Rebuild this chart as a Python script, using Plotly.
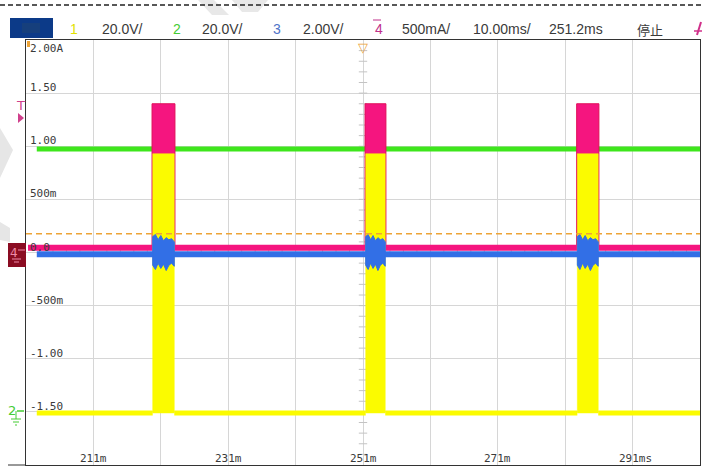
import plotly.graph_objects as go

time_window_ms = [201.2, 301.2]          # 10 ms/div, 10 divisions
trace_span_ms = [202.8, 301.2]           # visible part of the record
pulse_on_ms = [220.0, 251.6, 283.0]
pulse_off_ms = [223.2, 254.5, 286.1]

ch2_level = 0.975                        # green trace (display units)
ch4_base, ch4_peak = 0.045, 1.40         # magenta current trace (A)
ch1_base, ch1_high = -1.51, 0.93         # yellow trace
ch3_base = -0.016                        # blue trace
ch3_burst_top = [0.15, 0.17, 0.12, 0.16, 0.11, 0.14, 0.12, 0.13, 0.10]
ch3_burst_bottom = [-0.12, -0.16, -0.10, -0.15, -0.11, -0.17, -0.12, -0.10, -0.13]
trigger_level = 0.177

x_tick_vals = [211.2, 231.2, 251.2, 271.2, 291.2]
x_tick_text = ["211m", "231m", "251m", "271m", "291ms"]
y_tick_vals = [2.0, 1.5, 1.0, 0.5, 0.0, -0.5, -1.0, -1.5]
y_tick_text = ["2.00A", "1.50", "1.00", "500m", "0.0", "-500m", "-1.00", "-1.50"]

header_labels = ["1", "20.0V/", "2", "20.0V/", "3", "2.00V/", "4", "500mA/",
                 "10.00ms/", "251.2ms", "停止"]

# ---------------- styles ----------------
GREEN = "#3ee61c"
MAGENTA = "#f5157f"
YELLOW = "#fbfb00"
BLUE = "#326fe6"
ORANGE = "#eda437"
GRID = "#d6d6d6"
TXT = "#3a3a3a"

W, H = 702, 468
L, R, T, B = 26, 700, 40, 465


def px_x(p):
    return (p - L) / (R - L)


def px_y(p):
    return (B - p) / (B - T)


def baseline_xy(level, start):
    """Horizontal baseline segments between the pulses."""
    edges = [start] + [v for pair in zip(pulse_on_ms, pulse_off_ms) for v in pair] + [trace_span_ms[1]]
    xs, ys = [], []
    for i in range(0, len(edges), 2):
        xs += [edges[i], edges[i + 1], None]
        ys += [level, level, None]
    return xs, ys


def blocks(lo, hi, pad=0.0):
    xs, ys = [], []
    for on, off in zip(pulse_on_ms, pulse_off_ms):
        xs += [on - pad, on - pad, off + pad, off + pad, on - pad, None]
        ys += [lo, hi, hi, lo, lo, None]
    return xs, ys


fig = go.Figure()

# centre-line minor ticks (graticule decoration)
cx = (time_window_ms[0] + time_window_ms[1]) / 2
fig.add_trace(go.Scatter(
    x=[cx] * 39, y=[-1.9 + 0.1 * i for i in range(39)], mode="markers",
    marker=dict(symbol="line-ew", size=6, line=dict(color="#c4c4c4", width=1)),
    hoverinfo="skip", showlegend=False))
fig.add_trace(go.Scatter(
    x=[time_window_ms[0] + 2 * i for i in range(1, 50)], y=[0] * 49, mode="markers",
    marker=dict(symbol="line-ns", size=6, line=dict(color="#c4c4c4", width=1)),
    hoverinfo="skip", showlegend=False))

# green (ch2)
fig.add_trace(go.Scatter(x=trace_span_ms, y=[ch2_level, ch2_level], mode="lines",
                         line=dict(color=GREEN, width=5), showlegend=False))

# magenta (ch4)
mx, my = blocks(ch4_base - 0.02, ch4_peak, pad=0.1)
fig.add_trace(go.Scatter(x=mx, y=my, mode="lines", fill="toself", fillcolor=MAGENTA,
                         line=dict(color="#e0105a", width=1), showlegend=False))
sx, sy = baseline_xy(ch4_base, trace_span_ms[0] - 1.3)
fig.add_trace(go.Scatter(x=sx, y=sy, mode="lines",
                         line=dict(color=MAGENTA, width=6), showlegend=False))

# yellow (ch1)
yx, yy = blocks(ch1_base, ch1_high)
fig.add_trace(go.Scatter(x=yx, y=yy, mode="lines", fill="toself", fillcolor=YELLOW,
                         line=dict(color=YELLOW, width=0.5), showlegend=False))
sx, sy = baseline_xy(ch1_base, trace_span_ms[0])
fig.add_trace(go.Scatter(x=sx, y=sy, mode="lines",
                         line=dict(color=YELLOW, width=5), showlegend=False))

# blue (ch3)
fig.add_trace(go.Scatter(x=trace_span_ms, y=[ch3_base, ch3_base], mode="lines",
                         line=dict(color=BLUE, width=6), showlegend=False))
bx, by = [], []
n = len(ch3_burst_top)
for on, off in zip(pulse_on_ms, pulse_off_ms):
    xs = [on + (off - on) * i / (n - 1) for i in range(n)]
    bx += xs + xs[::-1] + [xs[0], None]
    by += ch3_burst_top + ch3_burst_bottom[::-1] + [ch3_burst_top[0], None]
fig.add_trace(go.Scatter(x=bx, y=by, mode="lines", fill="toself", fillcolor=BLUE,
                         line=dict(color=BLUE, width=1), showlegend=False))

# trigger level (dashed orange)
fig.add_trace(go.Scatter(x=time_window_ms, y=[trigger_level, trigger_level], mode="lines",
                         line=dict(color=ORANGE, width=1.5, dash="6px,4px"), showlegend=False))

ann = []
# y labels (inside the graticule)
for v, t in zip(y_tick_vals, y_tick_text):
    ann.append(dict(xref="paper", yref="y", x=0.003, y=v, text=t, showarrow=False,
                    xanchor="left", yanchor="top" if v == 2.0 else "bottom",
                    yshift=0 if v == 2.0 else -3,
                    font=dict(family="DejaVu Sans Mono", size=11, color=TXT)))
# x labels
for v, t in zip(x_tick_vals, x_tick_text):
    ann.append(dict(xref="x", yref="paper", x=v, y=0, text=t, showarrow=False,
                    xanchor="center", yanchor="bottom", yshift=-2,
                    xshift=3 if t.endswith("s") else 0,
                    font=dict(family="DejaVu Sans Mono", size=11, color=TXT)))

# header
header_x = [68, 100, 171, 200, 271, 301, 373, 400, 471, 547, 635]
header_col = ["#e2e200", TXT, "#44cc33", TXT, "#4f74c8", TXT, "#c0308a", TXT, TXT, TXT, TXT]
for lab, hx, hc in zip(header_labels, header_x, header_col):
    fam = "Noto Sans CJK SC" if lab == "停止" else "Liberation Sans Narrow, Liberation Sans, Arial"
    ann.append(dict(xref="paper", yref="paper", x=px_x(hx), y=px_y(29), text=lab,
                    showarrow=False, xanchor="left", yanchor="middle",
                    font=dict(family=fam, size=13 if lab == "停止" else 14, color=hc)))

# side markers
ann += [
    dict(xref="paper", yref="paper", x=px_x(20.5), y=px_y(106), text="T", showarrow=False,
         xanchor="center", yanchor="middle",
         font=dict(family="DejaVu Sans", size=13, color="#d0408c")),
    dict(xref="paper", yref="paper", x=px_x(13.5), y=px_y(253), text="4", showarrow=False,
         xanchor="center", yanchor="middle",
         font=dict(family="DejaVu Sans", size=12, color="#f08aa8")),
    dict(xref="paper", yref="paper", x=px_x(11.5), y=px_y(410), text="2", showarrow=False,
         xanchor="center", yanchor="middle",
         font=dict(family="DejaVu Sans", size=13, color="#44cc33")),
    dict(xref="paper", yref="paper", x=px_x(363), y=px_y(40), text="▽", showarrow=False,
         xanchor="center", yanchor="top", yshift=2,
         font=dict(family="DejaVu Sans", size=13, color=ORANGE)),
]

shapes = [
    # dashed header line
    dict(type="line", xref="paper", yref="paper", x0=px_x(0), x1=px_x(702),
         y0=px_y(5), y1=px_y(5), line=dict(color="#222", width=1.5, dash="5px,3px")),
    # header blue box
    dict(type="rect", xref="paper", yref="paper", x0=px_x(10), x1=px_x(53),
         y0=px_y(38), y1=px_y(18), fillcolor="#0c3a88", line=dict(width=0)),
    dict(type="rect", xref="paper", yref="paper", x0=px_x(22), x1=px_x(40),
         y0=px_y(33), y1=px_y(23), fillcolor="#163f7c", line=dict(width=0)),
    # overline on the "4"
    dict(type="line", xref="paper", yref="paper", x0=px_x(373), x1=px_x(381),
         y0=px_y(20), y1=px_y(20), line=dict(color="#c0308a", width=1)),
    # partial trigger glyph at the right edge
    dict(type="line", xref="paper", yref="paper", x0=px_x(697), x1=px_x(701),
         y0=px_y(35), y1=px_y(22), line=dict(color="#d0308a", width=2)),
    dict(type="line", xref="paper", yref="paper", x0=px_x(694), x1=px_x(702),
         y0=px_y(31), y1=px_y(31), line=dict(color="#d0308a", width=1.5)),
    # bottom border extension
    dict(type="line", xref="paper", yref="paper", x0=px_x(8), x1=px_x(26),
         y0=px_y(465), y1=px_y(465), line=dict(color="#333", width=1)),
    # orange corner flag
    dict(type="rect", xref="paper", yref="paper", x0=px_x(27), x1=px_x(30),
         y0=px_y(47), y1=px_y(41), fillcolor=ORANGE, line=dict(width=0)),
    # trigger-level arrow (ch4)
    dict(type="path", xref="paper", yref="paper",
         path=f"M {px_x(18)} {px_y(113)} L {px_x(24)} {px_y(118)} L {px_x(18)} {px_y(123)} Z",
         fillcolor="#d0408c", line=dict(width=0)),
    # ch4 marker box
    dict(type="rect", xref="paper", yref="paper", x0=px_x(8), x1=px_x(26),
         y0=px_y(267), y1=px_y(243), fillcolor="#8a0c22", line=dict(width=0)),
    dict(type="line", xref="paper", yref="paper", x0=px_x(18), x1=px_x(25),
         y0=px_y(250), y1=px_y(250), line=dict(color="#f08aa8", width=1)),
    dict(type="line", xref="paper", yref="paper", x0=px_x(12), x1=px_x(21),
         y0=px_y(259), y1=px_y(259), line=dict(color="#f08aa8", width=1)),
    dict(type="line", xref="paper", yref="paper", x0=px_x(14), x1=px_x(19),
         y0=px_y(262), y1=px_y(262), line=dict(color="#f08aa8", width=1)),
    # ch2 marker arrow + ground
    dict(type="line", xref="paper", yref="paper", x0=px_x(17), x1=px_x(24),
         y0=px_y(411), y1=px_y(411), line=dict(color="#44cc33", width=1.5)),
    dict(type="line", xref="paper", yref="paper", x0=px_x(16), x1=px_x(16),
         y0=px_y(411), y1=px_y(419), line=dict(color="#44cc33", width=1)),
    dict(type="line", xref="paper", yref="paper", x0=px_x(11), x1=px_x(21),
         y0=px_y(419), y1=px_y(419), line=dict(color="#44cc33", width=1)),
    dict(type="line", xref="paper", yref="paper", x0=px_x(13), x1=px_x(19),
         y0=px_y(422), y1=px_y(422), line=dict(color="#44cc33", width=1)),
    dict(type="line", xref="paper", yref="paper", x0=px_x(15), x1=px_x(17),
         y0=px_y(425), y1=px_y(425), line=dict(color="#44cc33", width=1)),
    # faint watermark fragments
    dict(type="path", xref="paper", yref="paper", layer="below",
         path=f"M {px_x(0)} {px_y(128)} L {px_x(13)} {px_y(150)} L {px_x(0)} {px_y(178)} Z",
         fillcolor="#e6e6e6", line=dict(width=0)),
    dict(type="path", xref="paper", yref="paper", layer="below",
         path=f"M {px_x(0)} {px_y(222)} L {px_x(10)} {px_y(228)} L {px_x(10)} {px_y(242)} L {px_x(0)} {px_y(240)} Z",
         fillcolor="#e6e6e6", line=dict(width=0)),
    dict(type="path", xref="paper", yref="paper", layer="below",
         path=f"M {px_x(198)} {px_y(0)} L {px_x(214)} {px_y(0)} L {px_x(229)} {px_y(15)} L {px_x(212)} {px_y(15)} Z",
         fillcolor="#e8e8e8", line=dict(width=0)),
    dict(type="path", xref="paper", yref="paper", layer="below",
         path=f"M {px_x(232)} {px_y(0)} L {px_x(268)} {px_y(0)} L {px_x(258)} {px_y(12)} L {px_x(242)} {px_y(12)} Z",
         fillcolor="#e8e8e8", line=dict(width=0)),
]

fig.update_layout(
    width=W, height=H, autosize=False,
    margin=dict(l=L, r=W - R, t=T, b=H - B, pad=0),
    paper_bgcolor="white", plot_bgcolor="white",
    xaxis=dict(range=time_window_ms, tick0=time_window_ms[0], dtick=10,
               showgrid=True, gridcolor=GRID, gridwidth=1, zeroline=False,
               showticklabels=False, ticks="", showline=True, mirror=True,
               linecolor="#333", linewidth=1, fixedrange=True),
    yaxis=dict(range=[-2, 2], tick0=-2, dtick=0.5, showgrid=True, gridcolor=GRID,
               gridwidth=1, zeroline=False, showticklabels=False, ticks="",
               showline=True, mirror=True, linecolor="#333", linewidth=1, fixedrange=True),
    annotations=ann, shapes=shapes, showlegend=False,
)

fig.write_html("out.html", config={"displayModeBar": False},
               post_script="document.body.style.margin='0';document.body.style.overflow='hidden';")
